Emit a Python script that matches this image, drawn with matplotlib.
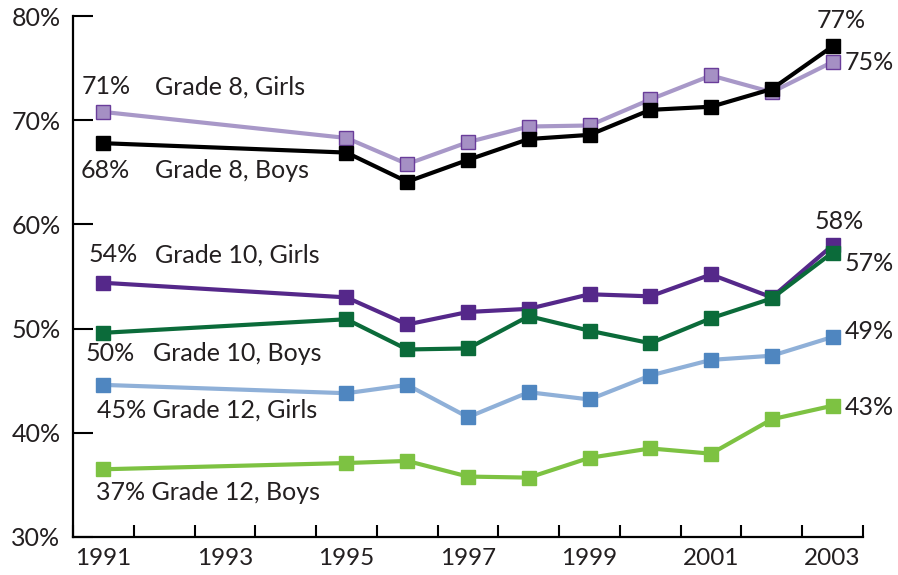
import matplotlib
matplotlib.use("Agg")
import matplotlib.pyplot as plt
from matplotlib.ticker import FixedLocator, NullFormatter

# survey years (no data 1992-1994)
years = [1991, 1995, 1996, 1997, 1998, 1999, 2000, 2001, 2002, 2003]

g8_girls = [70.8, 68.3, 65.8, 67.9, 69.4, 69.5, 72.0, 74.3, 72.7, 75.6]
g8_boys = [67.8, 66.9, 64.1, 66.2, 68.2, 68.6, 71.0, 71.3, 73.0, 77.1]
g10_girls = [54.4, 53.0, 50.4, 51.6, 51.9, 53.3, 53.1, 55.2, 53.0, 58.0]
g10_boys = [49.6, 50.9, 48.0, 48.1, 51.2, 49.8, 48.6, 51.0, 52.9, 57.3]
g12_girls = [44.6, 43.8, 44.6, 41.5, 43.9, 43.2, 45.5, 47.0, 47.4, 49.2]
g12_boys = [36.5, 37.1, 37.3, 35.8, 35.7, 37.6, 38.5, 38.0, 41.3, 42.6]

year_labels = ['1991', '1993', '1995', '1997', '1999', '2001', '2003']
ytick_vals = [30, 40, 50, 60, 70, 80]

plt.rcParams['font.family'] = ['Lato', 'DejaVu Sans']
txt = '#231f20'

fig = plt.figure(figsize=(8.98, 5.75), dpi=100)
ax = fig.add_axes([0.0813, 0.0661, 0.8797, 0.9059])

def draw(vals, line_col, face, edge):
    ax.plot(years, vals, color=line_col, linewidth=3, marker='s',
            markersize=10, markerfacecolor=face, markeredgecolor=edge,
            markeredgewidth=1, clip_on=False)

draw(g8_girls, '#a898c8', '#a590c4', '#6a3d9a')
draw(g8_boys, '#000000', '#000000', '#000000')
draw(g10_girls, '#55288a', '#55288a', '#55288a')
draw(g10_boys, '#0b6b3a', '#0b6b3a', '#0b6b3a')
draw(g12_girls, '#8fb0d8', '#4f86c0', '#4f86c0')
draw(g12_boys, '#7dc242', '#7dc242', '#7dc242')

ax.set_xlim(1990.5, 2003.5)
ax.set_ylim(30, 80)

# ticks between years, labels centred on years
ax.xaxis.set_major_locator(FixedLocator([1990.5 + k for k in range(14)]))
ax.xaxis.set_major_formatter(NullFormatter())
ax.xaxis.set_minor_locator(FixedLocator([int(y) for y in year_labels]))
ax.set_xticklabels(year_labels, minor=True)
ax.tick_params(axis='x', which='major', direction='in', length=8.6, width=1.5)
ax.tick_params(axis='x', which='minor', length=0, pad=8, labelsize=17.5,
               labelcolor=txt)

ax.set_yticks(ytick_vals)
ax.set_yticklabels([f'{v}%' for v in ytick_vals])
ax.tick_params(axis='y', direction='in', length=14.4, width=1.5, pad=9,
               labelsize=18, labelcolor=txt)

for s in ['top', 'right']:
    ax.spines[s].set_visible(False)
for s in ['left', 'bottom']:
    ax.spines[s].set_linewidth(1.6)

fs = 18
ax.text(1990.65, 73.2, '71%', fontsize=fs, color=txt, va='center')
ax.text(1991.85, 73.2, 'Grade 8, Girls', fontsize=fs, color=txt, va='center')
ax.text(1990.62, 65.2, '68%', fontsize=fs, color=txt, va='center')
ax.text(1991.85, 65.2, 'Grade 8, Boys', fontsize=fs, color=txt, va='center')
ax.text(2002.74, 79.6, '77%', fontsize=fs, color=txt, va='center')
ax.text(2003.2, 75.5, '75%', fontsize=fs, color=txt, va='center')
ax.text(2002.71, 60.3, '58%', fontsize=fs, color=txt, va='center')
ax.text(2003.2, 56.3, '57%', fontsize=fs, color=txt, va='center')
ax.text(1990.75, 57.1, '54%', fontsize=fs, color=txt, va='center')
ax.text(1991.85, 57.1, 'Grade 10, Girls', fontsize=fs, color=txt, va='center')
ax.text(1990.71, 47.6, '50%', fontsize=fs, color=txt, va='center')
ax.text(1991.82, 47.6, 'Grade 10, Boys', fontsize=fs, color=txt, va='center')
ax.text(1990.9, 42.2, '45% Grade 12, Girls', fontsize=fs, color=txt, va='center')
ax.text(2003.2, 49.7, '49%', fontsize=fs, color=txt, va='center')
ax.text(1990.88, 34.3, '37% Grade 12, Boys', fontsize=fs, color=txt, va='center')
ax.text(2003.2, 42.4, '43%', fontsize=fs, color=txt, va='center')

fig.savefig('out.png', dpi=100)
